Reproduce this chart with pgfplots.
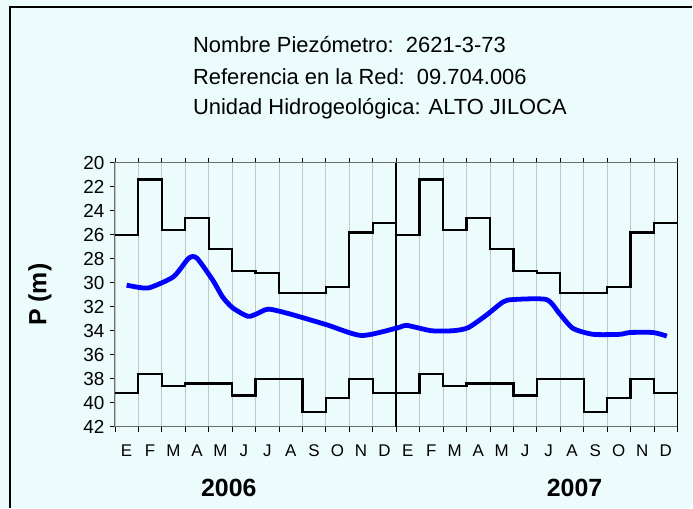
\documentclass[border=0pt]{standalone}
\usepackage{fontspec}
\setmainfont{Liberation Sans}
\usepackage{pgfplots}
\pgfplotsset{compat=1.18}
\definecolor{bg}{RGB}{236,252,252}
\definecolor{gridc}{RGB}{190,200,200}
\definecolor{axgray}{RGB}{110,110,110}

\pgfplotstableread{
x   y
0   26.0
1   21.4
2   25.6
3   24.6
4   27.2
5   29.0
6   29.2
7   30.85
8   30.85
9   30.35
10  25.8
11  25.0
12  26.0
13  21.4
14  25.6
15  24.6
16  27.2
17  29.0
18  29.2
19  30.85
20  30.85
21  30.35
22  25.8
23  25.0
24  25.0
}\maxtable

\pgfplotstableread{
x   y
0   39.2
1   37.6
2   38.6
3   38.4
4   38.4
5   39.4
6   38.0
7   38.0
8   40.8
9   39.6
10  38.0
11  39.2
12  39.2
13  37.6
14  38.6
15  38.4
16  38.4
17  39.4
18  38.0
19  38.0
20  40.8
21  39.6
22  38.0
23  39.2
24  39.2
}\mintable

\pgfplotstableread{
x     y
0.5   30.2
1.07  30.4
1.5   30.4
2.5   29.5
3.15  27.95
3.5   27.95
4.18  29.8
4.6   31.2
5.03  32.1
5.67  32.8
6.04  32.6
6.55  32.2
7.46  32.6
9.03  33.5
10.52 34.4
12.08 33.75
12.44 33.55
13.5  34.0
14.43 34.0
15.07 33.75
15.85 32.7
16.56 31.6
16.99 31.4
18.41 31.4
18.98 32.6
19.54 33.8
20.4  34.3
21.54 34.3
21.96 34.15
22.96 34.15
23.55 34.45
}\leveltable

\begin{document}
\begin{tikzpicture}
\fill[bg] (0bp,0bp) rectangle (693bp,508bp);
\draw[line width=1.2bp] (10bp,0bp) -- (10bp,501bp) -- (693bp,501bp);
\node[anchor=west,font=\fontsize{22}{24}\selectfont,inner sep=0pt] at (193bp,463bp) {Nombre Piezómetro:\ \ 2621-3-73};
\node[anchor=west,font=\fontsize{22}{24}\selectfont,inner sep=0pt] at (193bp,431bp) {Referencia en la Red:\ \ 09.704.006};
\node[anchor=west,font=\fontsize{22}{24}\selectfont,inner sep=0pt] at (193bp,399bp) {Unidad Hidrogeológica: ALTO JILOCA};
\node[rotate=90,font=\fontsize{25}{28}\selectfont\bfseries] at (40bp,213bp) {P (m)};
\node[font=\fontsize{25}{28}\selectfont\bfseries] at (229bp,20bp) {2006};
\node[font=\fontsize{25}{28}\selectfont\bfseries] at (575bp,20bp) {2007};
\begin{axis}[
  at={(115bp,81bp)}, anchor=south west,
  scale only axis, width=563bp, height=264bp,
  xmin=0, xmax=24, ymin=20, ymax=42,
  y dir=reverse,
  axis background/.style={fill=bg},
  axis line style={axgray, line width=1bp},
  ytick={20,22,...,42},
  ytick pos=left,
  yticklabel style={font=\fontsize{19}{22}\selectfont, xshift=-2bp},
  xtick={0.5,1.5,...,23.5},
  xticklabels={E,F,M,A,M,J,J,A,S,O,N,D,E,F,M,A,M,J,J,A,S,O,N,D},
  xticklabel style={font=\fontsize{17}{20}\selectfont, yshift=-10bp},
  major x tick style={draw=none},
  minor xtick={0,1,...,24},
  xminorgrids,
  minor x grid style={gridc, line width=0.8bp},
  xtick pos=both,
  tick align=outside,
  minor tick length=5bp,
  major tick length=5bp,
  tick style={black, line width=0.8bp},
  /pgf/number format/assume math mode=true,
  clip=false,
]
\draw[black, line width=1.5bp] (axis cs:24,20) -- (axis cs:24,42);
\draw[black, line width=1.8bp] (axis cs:12,20) -- (axis cs:12,42);
\addplot[const plot, black, line width=2.3bp] table {\maxtable};
\addplot[const plot, black, line width=2.3bp] table {\mintable};
\addplot[smooth, tension=0.4, color={rgb,255:red,0;green,0;blue,255}, line width=4.8bp] table {\leveltable};
\end{axis}
\end{tikzpicture}
\end{document}
